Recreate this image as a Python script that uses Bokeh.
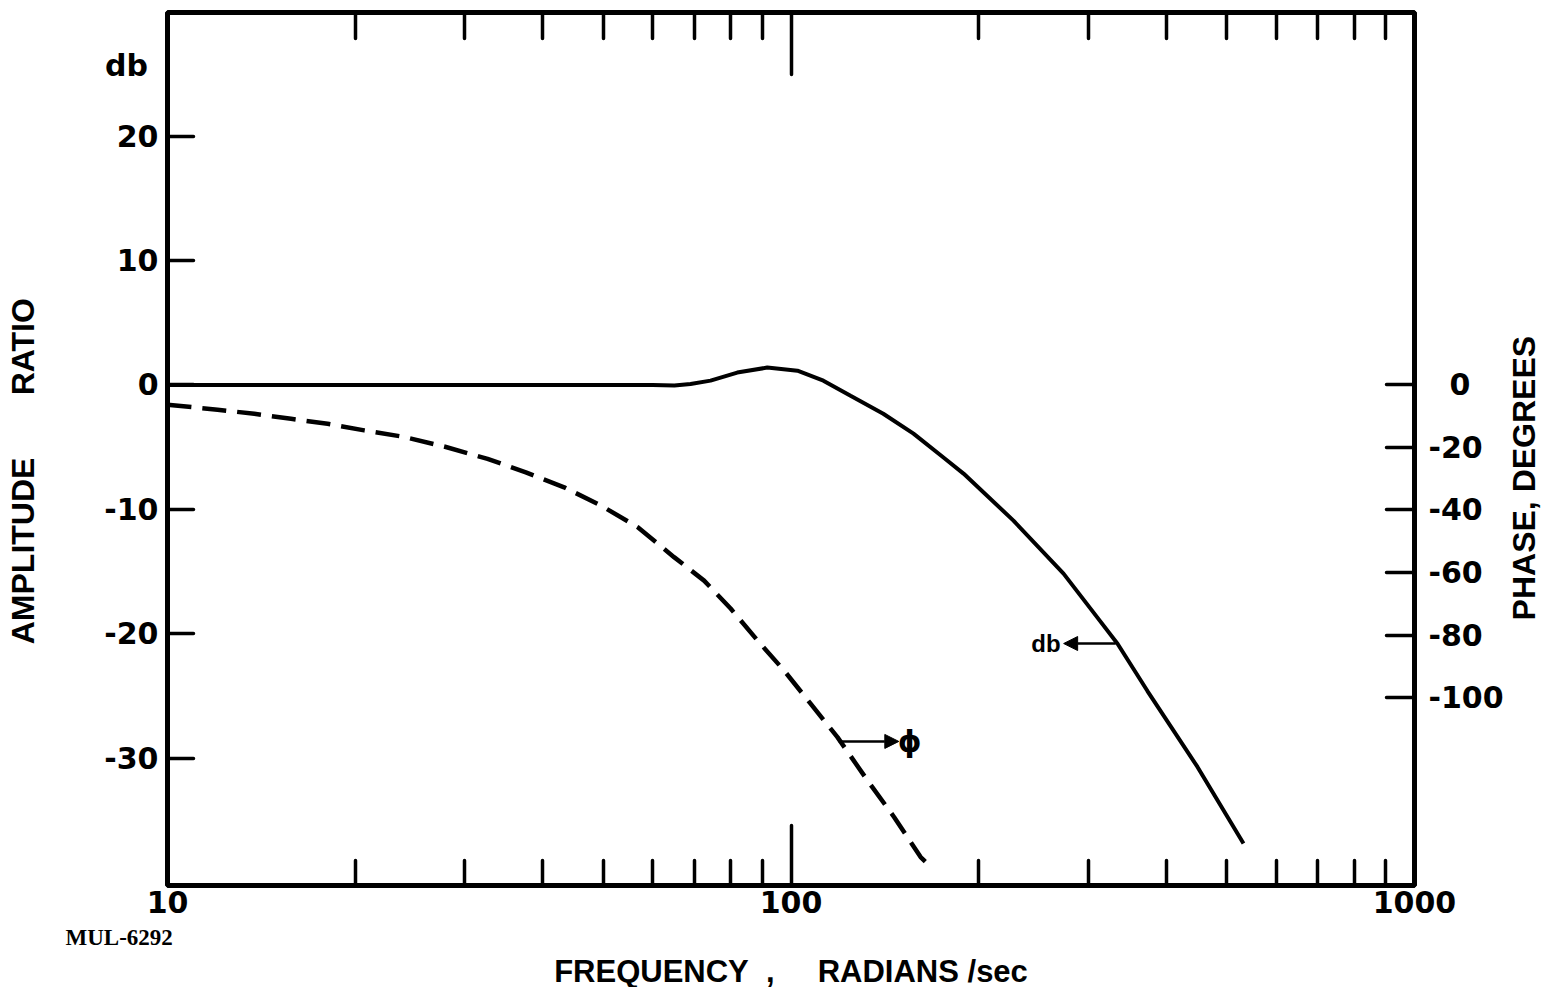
import math
from bokeh.plotting import figure
from bokeh.models import (Range1d, LinearAxis, LogAxis, FixedTicker, Label, Arrow,
                          NormalHead, Title)
from bokeh.embed import file_html
from bokeh.resources import INLINE

# ---- data ----
freq_db = [10, 20, 40, 60, 65, 69, 74.3, 82.0, 91.6, 102.4, 112.7, 124.6, 140.6,
           157.2, 175.6, 189.1, 227.4, 273.6, 310.1, 334.0, 373.0, 448.7, 531.8]
amp_db = [0, 0, 0, 0, -0.05, 0.08, 0.35, 1.0, 1.4, 1.15, 0.35, -0.87, -2.31,
          -3.91, -5.83, -7.12, -10.9, -15.16, -18.7, -20.8, -24.6, -30.7, -36.85]

freq_phase = [10, 12.03, 13.78, 15.78, 18.06, 20.68, 23.97, 27.96, 32.61, 37.56, 43.27,
              49.55, 56.73, 64.93, 72.54, 80.08, 88.37, 97.45, 107.5, 118.7, 132.6,
              146.3, 161.4, 165.5]
phase_deg = [-6.4, -8.0, -9.3, -10.9, -12.5, -14.6, -16.7, -19.9, -23.7, -28.0, -32.8,
             -38.6, -45.5, -55.1, -62.6, -71.6, -81.7, -91.3, -101.9, -112.6, -126.4,
             -138.1, -150.9, -153.0]

x_major_ticks = [10, 100, 1000]
x_minor_ticks = [20, 30, 40, 50, 60, 70, 80, 90, 200, 300, 400, 500, 600, 700, 800, 900]
db_ticks = [-30, -20, -10, 0, 10, 20]
phase_ticks = [0, -20, -40, -60, -80, -100]

DB_UNIT_POS = 25.7        # where the "db" unit note sits on the left scale
PHASE_TITLE_POS = -75.3   # phase value where the right title starts

TICK_FONT = "DejaVu Sans"
TITLE_FONT = "Liberation Sans"

p = figure(width=1563, height=987, x_axis_type="log",
           x_range=Range1d(10, 1000), y_range=Range1d(-40.23, 29.94),
           output_backend="svg", toolbar_location=None,
           min_border_left=167, min_border_right=149, min_border_top=12, min_border_bottom=102)
p.extra_y_ranges = {"phase": Range1d(-160.0, 118.9)}
p.xgrid.visible = False
p.ygrid.visible = False
p.outline_line_color = "black"
p.outline_line_width = 5
p.background_fill_color = "white"
p.border_fill_color = "white"


def style_axis(ax, major_in, minor_in):
    ax.axis_line_color = None
    ax.major_tick_in = major_in
    ax.major_tick_out = 0
    ax.minor_tick_in = minor_in
    ax.minor_tick_out = 0
    ax.major_tick_line_width = 3.5
    ax.minor_tick_line_width = 3.5
    ax.major_tick_line_color = "black"
    ax.minor_tick_line_color = "black"
    ax.major_tick_line_cap = "round"
    ax.minor_tick_line_cap = "round"
    ax.major_label_text_font = TICK_FONT
    ax.major_label_text_font_style = "bold"
    ax.major_label_text_font_size = "30px"
    ax.major_label_text_color = "black"


# bottom log axis
xa = p.xaxis[0]
xa.ticker = FixedTicker(ticks=x_major_ticks, minor_ticks=x_minor_ticks)
style_axis(xa, 60, 25)
xa.major_label_standoff = 5
xa.major_label_overrides = {t: str(t) for t in x_major_ticks}

# top log axis (ticks only)
xt = LogAxis(ticker=FixedTicker(ticks=x_major_ticks, minor_ticks=x_minor_ticks))
style_axis(xt, 62, 26)
xt.major_label_text_font_size = "1px"
xt.major_label_text_color = None
xt.major_label_standoff = 0
p.add_layout(xt, "above")

# left db axis: tick marks drawn as "minor" ticks, labels on major ticks (+ "db" note)
ya = p.yaxis[0]
ya.ticker = FixedTicker(ticks=db_ticks + [DB_UNIT_POS], minor_ticks=db_ticks)
style_axis(ya, 0, 26)
ya.major_label_standoff = 9
ov = {t: str(t) for t in db_ticks}
ov[DB_UNIT_POS] = "db\u00a0"
ya.major_label_overrides = ov
ya.axis_label = "AMPLITUDE" + "\u00a0" * 7 + "RATIO" + "\u00a0" * 5
ya.axis_label_standoff = 60
ya.axis_label_text_font = TITLE_FONT
ya.axis_label_text_font_style = "bold"
ya.axis_label_text_font_size = "32px"
ya.axis_label_text_color = "black"

# right phase axis
yr = LinearAxis(y_range_name="phase", ticker=FixedTicker(ticks=phase_ticks))
style_axis(yr, 28, 0)
yr.minor_tick_line_color = None
yr.major_label_standoff = 14
ovr = {t: str(t) for t in phase_ticks}
ovr[0] = "\u00a0\u00a00"
yr.major_label_overrides = ovr
p.add_layout(yr, "right")

# right title, carried by a second (mark-less) right axis so it reads bottom-to-top
yt = LinearAxis(y_range_name="phase", ticker=FixedTicker(ticks=[PHASE_TITLE_POS]))
style_axis(yt, 0, 0)
yt.minor_tick_line_color = None
yt.major_tick_line_color = None
yt.major_label_overrides = {PHASE_TITLE_POS: "PHASE, DEGREES"}
yt.major_label_orientation = math.pi / 2
yt.major_label_standoff = 18
yt.major_label_text_font = TITLE_FONT
yt.major_label_text_font_size = "32px"
p.add_layout(yt, "right")

# bottom texts
p.add_layout(Title(text="MUL-6292", align="left", offset=-102, standoff=14,
                   text_font="Liberation Serif", text_font_style="bold",
                   text_font_size="23px", text_color="black"), "below")
p.add_layout(Title(text="FREQUENCY\u00a0\u00a0,\u00a0\u00a0\u00a0\u00a0\u00a0RADIANS\u00a0/sec",
                   align="center", offset=6, standoff=-10,
                   text_font=TITLE_FONT, text_font_style="bold",
                   text_font_size="31px", text_color="black"), "below")

# curves
p.line(freq_db, amp_db, line_color="black", line_width=4)
p.line(freq_phase, phase_deg, y_range_name="phase", line_color="black",
       line_width=4.5, line_dash="24 11")

# curve markers (arrows + symbols)
p.add_layout(Arrow(end=NormalHead(size=14, fill_color="black", line_color="black"),
                   x_start=119.3, y_start=-28.65, x_end=148.9, y_end=-28.65,
                   line_color="black", line_width=2.5))
p.add_layout(Label(x=155.0, y=-28.65, text="\u03d5", text_align="center",
                   text_baseline="middle", text_font=TICK_FONT, text_font_style="bold",
                   text_font_size="30px", text_color="black"))
p.add_layout(Arrow(end=NormalHead(size=14, fill_color="black", line_color="black"),
                   x_start=331.6, y_start=-20.78, x_end=273.7, y_end=-20.78,
                   line_color="black", line_width=2.5))
p.add_layout(Label(x=270.6, y=-20.78, text="db", text_align="right",
                   text_baseline="middle", text_font=TITLE_FONT, text_font_style="bold",
                   text_font_size="24px", text_color="black"))

open("out.html", "w").write(file_html(p, INLINE))
